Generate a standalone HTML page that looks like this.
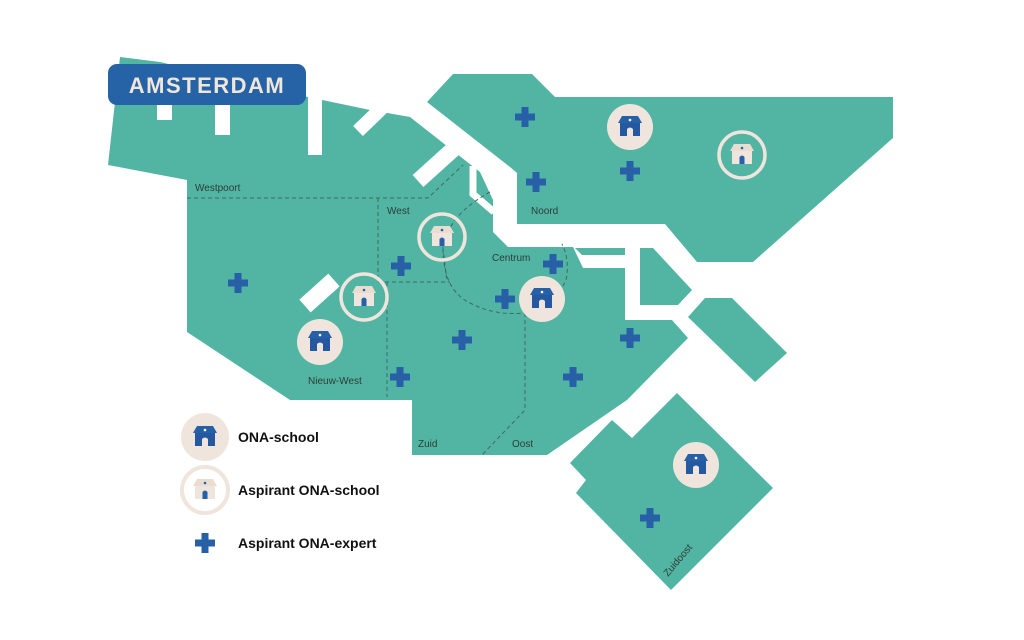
<!DOCTYPE html>
<html><head><meta charset="utf-8"><style>
html,body{margin:0;padding:0;background:#fff;width:1024px;height:640px;overflow:hidden}
svg{display:block}
</style></head><body>
<svg width="1024" height="640" viewBox="0 0 1024 640" xmlns="http://www.w3.org/2000/svg" font-family="Liberation Sans, sans-serif">
<defs>
<g id="hb">
<path d="M-12,-4 L-8,-11 L8,-11 L12,-4 Z" fill="#2860a8"/>
<rect x="-10" y="-4" width="20" height="13" fill="#2458a0"/>
<path d="M-3,9 L-3,2 Q0,-1 3,2 L3,9 Z" fill="#efe5dc"/>
<circle cx="0" cy="-7" r="1.3" fill="#fff"/>
</g>
<g id="ha">
<path d="M-12,-4 L-8,-11 L8,-11 L12,-4 Z" fill="#e8ddd0"/>
<rect x="-10" y="-4" width="20" height="13" fill="#efe5dc"/>
<path d="M-2.5,9 L-2.5,2 Q0,-1 2.5,2 L2.5,9 Z" fill="#2860a8"/>
<circle cx="0" cy="-7" r="1.3" fill="#2860a8"/>
</g>
<path id="pl" d="M-3.5,-10 h7 v6.5 h6.5 v7 h-6.5 v6.5 h-7 v-6.5 h-6.5 v-7 h6.5 z" fill="#2860a8"/>
</defs>
<g fill="#52b5a3">
<polygon points="120,57 160,62 308,97 370,110 410,117 480,172 493,200 493,232 508,247 573,247 583,268 625,268 625,320 672,320 688,338 627,400 547,455 412,455 412,400 290,400 187,332 187,180 108,165"/>
<polygon points="427,102 453,74 532,74 555,97 893,97 893,138 753,262 697,262 665,224 517,224 517,173 510,167"/>
<polygon points="575,248 625,248 625,255 582,255"/>
<polygon points="640,248 653,248 692,290 678,305 640,305"/>
<polygon points="705,298 732,298 787,353 755,382 688,317"/>
<polygon points="570,463 612,420 632,438 677,393 773,488 671,590 576,493 586,480"/>
</g>
<g fill="#fff">
<rect x="157" y="100" width="15" height="20"/>
<rect x="215" y="100" width="15" height="35"/>
<rect x="308" y="95" width="14" height="60"/>
</g>
<g stroke="#fff" fill="none" stroke-linecap="butt">
<line x1="358" y1="131" x2="386" y2="104" stroke-width="14"/>
<line x1="418" y1="181" x2="459" y2="144" stroke-width="16"/>
<polyline points="473,166 473,194 494,212" stroke-width="7"/>
<line x1="305" y1="306" x2="334" y2="280" stroke-width="17"/>
</g>
<g stroke="#3d6a60" stroke-width="1" stroke-dasharray="4,3" fill="none">
<polyline points="187,198 428,198 463,165"/>
<polyline points="378,198 378,282 450,282"/>
<line x1="387" y1="282" x2="387" y2="397"/>
<path d="M490,192 Q448,215 443,248 Q443,290 470,303 Q495,316 525,313 Q555,305 566,280 Q570,260 562,244"/>
<line x1="442" y1="240" x2="447" y2="282"/>
<polyline points="525,313 525,410 482,455"/>
</g>
<rect x="108" y="64" width="198" height="41" rx="9" fill="#2563a6"/>
<text x="207" y="93" text-anchor="middle" font-size="22" font-weight="bold" fill="#f0e6da" letter-spacing="1.5">AMSTERDAM</text>
<g font-size="10" fill="#2c3d38">
<text x="195" y="191">Westpoort</text>
<text x="387" y="214">West</text>
<text x="531" y="214">Noord</text>
<text x="492" y="261">Centrum</text>
<text x="308" y="384">Nieuw-West</text>
<text x="418" y="447">Zuid</text>
<text x="512" y="447">Oost</text>
<text x="0" y="0" transform="translate(668,577) rotate(-50)">Zuidoost</text>
</g>
<g>
<circle cx="630" cy="127" r="23" fill="#efe5dc"/><use href="#hb" x="630" y="127"/>
<circle cx="320" cy="342" r="23" fill="#efe5dc"/><use href="#hb" x="320" y="342"/>
<circle cx="542" cy="299" r="23" fill="#efe5dc"/><use href="#hb" x="542" y="299"/>
<circle cx="696" cy="465" r="23" fill="#efe5dc"/><use href="#hb" x="696" y="465"/>
<circle cx="742" cy="155" r="23" fill="none" stroke="#efe5dc" stroke-width="3.5"/><use href="#ha" x="742" y="155"/>
<circle cx="442" cy="237" r="23" fill="none" stroke="#efe5dc" stroke-width="3.5"/><use href="#ha" x="442" y="237"/>
<circle cx="364" cy="297" r="23" fill="none" stroke="#efe5dc" stroke-width="3.5"/><use href="#ha" x="364" y="297"/>
</g>
<g>
<use href="#pl" x="525" y="117"/><use href="#pl" x="536" y="182"/><use href="#pl" x="630" y="171"/>
<use href="#pl" x="238" y="283"/><use href="#pl" x="401" y="266"/><use href="#pl" x="553" y="264"/>
<use href="#pl" x="505" y="299"/><use href="#pl" x="462" y="340"/><use href="#pl" x="400" y="377"/>
<use href="#pl" x="573" y="377"/><use href="#pl" x="630" y="338"/><use href="#pl" x="650" y="518"/>
</g>
<circle cx="205" cy="437" r="24" fill="#efe5dc"/><use href="#hb" x="205" y="437"/>
<circle cx="205" cy="490" r="23" fill="#fff" stroke="#efe5dc" stroke-width="4"/><use href="#ha" x="205" y="490"/>
<use href="#pl" x="205" y="543"/>
<g font-size="14" font-weight="bold" fill="#111">
<text x="238" y="442">ONA-school</text>
<text x="238" y="495">Aspirant ONA-school</text>
<text x="238" y="548">Aspirant ONA-expert</text>
</g>
</svg>
</body></html>
